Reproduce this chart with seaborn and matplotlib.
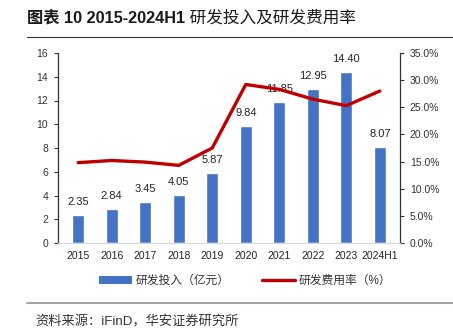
import numpy as np
import pandas as pd
import matplotlib
matplotlib.use("Agg")
import matplotlib.pyplot as plt
import seaborn as sns
from matplotlib.patches import Patch
from matplotlib.lines import Line2D
from matplotlib.ticker import FuncFormatter, MultipleLocator

years = ["2015", "2016", "2017", "2018", "2019", "2020", "2021", "2022", "2023", "2024H1"]
rd_invest = [2.35, 2.84, 3.45, 4.05, 5.87, 9.84, 11.85, 12.95, 14.40, 8.07]
rd_rate = [14.8, 15.2, 14.9, 14.3, 17.5, 29.2, 28.3, 26.5, 25.3, 28.0]

title_bold = "图表 10 2015-2024H1"
title_rest = " 研发投入及研发费用率"
bar_label = "研发投入（亿元）"
line_label = "研发费用率（%）"
source = "资料来源：iFinD，华安证券研究所"

sns.set_style("white")
plt.rcParams["font.family"] = ["Liberation Sans", "Noto Sans CJK SC"]

bar_color = "#4472C4"
line_color = "#C00000"

fig = plt.figure(figsize=(4.53, 3.35), dpi=100)
ax = fig.add_axes([58/453, 1-243/335, (400-58)/453, (243-53)/335])

df = pd.DataFrame({"year": years, "invest": rd_invest, "rate": rd_rate})
sns.barplot(data=df, x="year", y="invest", color=bar_color, width=0.36,
            saturation=1, ax=ax, zorder=2)
ax.set_ylim(0, 16)
ax.yaxis.set_major_locator(MultipleLocator(2))
ax.set_xlim(-0.6, len(years) - 0.4)
ax.set_xlabel("")
ax.set_ylabel("")
for i, v in enumerate(rd_invest):
    ax.annotate(f"{v:.2f}", (i, v), xytext=(0, 6), textcoords="offset points",
                ha="center", va="bottom", fontsize=8, color="#222222")

ax2 = ax.twinx()
sns.lineplot(x=np.arange(len(years)), y=rd_rate, color=line_color, linewidth=2.4,
             ax=ax2, zorder=3)
ax2.set_ylim(0, 35)
ax2.yaxis.set_major_locator(MultipleLocator(5))
ax2.yaxis.set_major_formatter(FuncFormatter(lambda v, p: f"{v:.1f}%"))

for a in (ax, ax2):
    a.spines["top"].set_visible(False)
    a.spines["bottom"].set_color("#d9d9d9")
    a.spines["left"].set_color("#333333")
    a.spines["right"].set_color("#333333")
    a.spines["left"].set_linewidth(0.9)
    a.spines["right"].set_linewidth(0.9)
ax.spines["right"].set_visible(False)
ax2.spines["left"].set_visible(False)

ax.tick_params(axis="y", direction="out", length=3, width=0.8, color="#333333",
               labelsize=7.5, labelcolor="#333333", pad=4)
ax2.tick_params(axis="y", direction="out", length=3, width=0.8, color="#333333",
                labelsize=7.5, labelcolor="#333333", pad=4)
ax.tick_params(axis="x", length=0, labelsize=7.5, labelcolor="#222222", pad=6)

handles = [Patch(facecolor=bar_color, edgecolor="none"),
           Line2D([0], [0], color=line_color, linewidth=2.4)]
fig.legend(handles, [bar_label, line_label], loc="center",
           bbox_to_anchor=(245/453, 1-281/335), ncol=2, frameon=False,
           fontsize=8.5, handlelength=2.8, handleheight=0.6, columnspacing=2.8,
           handletextpad=0.3, labelcolor="#333333")

# title
t1 = fig.text(27/453, 1-18/335, title_bold, fontsize=11.7, fontweight="bold",
              ha="left", va="center", color="#1a1a1a")
fig.canvas.draw()
bb = t1.get_window_extent()
fig.text(bb.x1/fig.bbox.width, 1-18/335, title_rest, fontsize=12,
         ha="left", va="center", color="#1a1a1a")

fig.add_artist(Line2D([27/453, 1.0], [1-37/335, 1-37/335], color="#333333",
                      linewidth=0.8, transform=fig.transFigure))
fig.add_artist(Line2D([27/453, 1.0], [1-303/335, 1-303/335], color="#a6a6a6",
                      linewidth=1.5, transform=fig.transFigure))
fig.text(35/453, 1-322/335, source, fontsize=9.5, ha="left", va="center",
         color="#333333")

fig.savefig("out.png", dpi=100)
